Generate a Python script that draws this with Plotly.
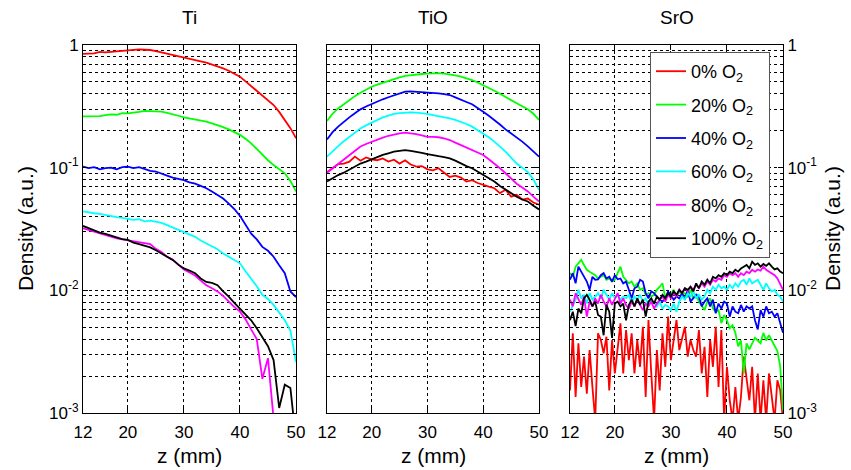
import plotly.graph_objects as go

# ---------------- data ----------------
z_mm = [12, 13, 14, 15, 16, 17, 18, 19, 20, 21, 22, 23, 24, 25, 26, 27, 28, 29, 30, 31,
        32, 33, 34, 35, 36, 37, 38, 39, 40, 41, 42, 43, 44, 45, 46, 47, 48, 49, 50]

z_sro_mm = [12.0, 12.5, 13.0, 13.5, 14.0, 14.5, 15.0, 15.5, 16.0, 16.5, 17.0, 17.5, 18.0, 18.5,
            19.0, 19.5, 20.0, 20.5, 21.0, 21.5, 22.0, 22.5, 23.0, 23.5, 24.0, 24.5, 25.0, 25.5,
            26.0, 26.5, 27.0, 27.5, 28.0, 28.5, 29.0, 29.5, 30.0, 30.5, 31.0, 31.5, 32.0, 32.5,
            33.0, 33.5, 34.0, 34.5, 35.0, 35.5, 36.0, 36.5, 37.0, 37.5, 38.0, 38.5, 39.0, 39.5,
            40.0, 40.5, 41.0, 41.5, 42.0, 42.5, 43.0, 43.5, 44.0, 44.5, 45.0, 45.5, 46.0, 46.5,
            47.0, 47.5, 48.0, 48.5, 49.0, 49.5, 50.0]

series_names = ["0% O<sub>2</sub>", "20% O<sub>2</sub>", "40% O<sub>2</sub>",
                "60% O<sub>2</sub>", "80% O<sub>2</sub>", "100% O<sub>2</sub>"]
series_colors = ["#ff0000", "#00ff00", "#0000ff", "#00ffff", "#ff00ff", "#000000"]
panel_titles = ["Ti", "TiO", "SrO"]

# Ti density
ti_0 = [0.845, 0.85, 0.855, 0.88, 0.87, 0.88, 0.89, 0.895, 0.90, 0.91, 0.92, 0.915, 0.91, 0.89,
        0.87, 0.85, 0.83, 0.815, 0.795, 0.78, 0.755, 0.735, 0.717, 0.695, 0.674, 0.645, 0.617,
        0.585, 0.552, 0.505, 0.463, 0.42, 0.384, 0.355, 0.324, 0.285, 0.245, 0.21, 0.174]
ti_20 = [0.262, 0.262, 0.265, 0.263, 0.268, 0.272, 0.27, 0.278, 0.277, 0.283, 0.285, 0.29, 0.288,
         0.287, 0.286, 0.28, 0.274, 0.265, 0.257, 0.252, 0.248, 0.243, 0.237, 0.23, 0.223, 0.214,
         0.205, 0.195, 0.185, 0.172, 0.158, 0.142, 0.127, 0.115, 0.105, 0.097, 0.090, 0.078, 0.064]
ti_40 = [0.102, 0.099, 0.101, 0.097, 0.099, 0.1, 0.097, 0.101, 0.102, 0.099, 0.101, 0.098, 0.094,
         0.093, 0.089, 0.086, 0.083, 0.081, 0.079, 0.076, 0.074, 0.071, 0.068, 0.064, 0.060, 0.056,
         0.051, 0.046, 0.0405, 0.034, 0.029, 0.026, 0.0226, 0.021, 0.0188, 0.016, 0.0138, 0.0098,
         0.0088]
ti_60 = [0.044, 0.043, 0.0425, 0.042, 0.041, 0.040, 0.0395, 0.039, 0.038, 0.0375, 0.038, 0.0365,
         0.037, 0.036, 0.0355, 0.034, 0.0325, 0.031, 0.030, 0.0285, 0.0273, 0.0255, 0.0241, 0.023,
         0.0216, 0.020, 0.0188, 0.0178, 0.0166, 0.0143, 0.0125, 0.0108, 0.0092, 0.0085, 0.0076,
         0.0066, 0.0057, 0.0047, 0.0026]
ti_80 = [0.032, 0.031, 0.0298, 0.029, 0.028, 0.027, 0.0265, 0.026, 0.0255, 0.025, 0.0245, 0.024,
         0.0238, 0.0218, 0.0205, 0.0188, 0.0178, 0.0162, 0.0148, 0.014, 0.0132, 0.012, 0.0110,
         0.0104, 0.0098, 0.009, 0.0081, 0.0073, 0.0067, 0.0058, 0.0048, 0.0040, 0.0019, 0.0028,
         0.0009, 0.0005, 0.0005, 0.0005, 0.0005]
ti_100 = [0.0335, 0.032, 0.0305, 0.0295, 0.0288, 0.0278, 0.027, 0.0262, 0.0258, 0.0245, 0.0238,
          0.023, 0.0224, 0.0212, 0.020, 0.0188, 0.0177, 0.0162, 0.0151, 0.0145, 0.0138, 0.0125,
          0.0117, 0.0115, 0.011, 0.0098, 0.0089, 0.0079, 0.0071, 0.0064, 0.0057, 0.0049, 0.0041,
          0.0035, 0.0027, 0.0011, 0.0017, 0.0016, 0.0006]

# TiO density
tio_0 = [0.092, 0.099, 0.107, 0.108, 0.112, 0.123, 0.114, 0.121, 0.117, 0.115, 0.119, 0.112,
         0.116, 0.108, 0.115, 0.106, 0.102, 0.103, 0.097, 0.095, 0.099, 0.091, 0.084, 0.086, 0.083,
         0.077, 0.079, 0.075, 0.072, 0.070, 0.068, 0.062, 0.066, 0.058, 0.060, 0.055, 0.056, 0.052,
         0.050]
tio_20 = [0.240, 0.275, 0.304, 0.33, 0.356, 0.383, 0.408, 0.433, 0.457, 0.475, 0.493, 0.512,
          0.531, 0.545, 0.559, 0.568, 0.577, 0.58, 0.584, 0.588, 0.59, 0.585, 0.577, 0.565, 0.552,
          0.535, 0.518, 0.495, 0.472, 0.448, 0.424, 0.40, 0.375, 0.355, 0.335, 0.317, 0.299, 0.275,
          0.245]
tio_40 = [0.170, 0.195, 0.216, 0.237, 0.257, 0.278, 0.299, 0.315, 0.331, 0.346, 0.361, 0.375,
          0.389, 0.403, 0.416, 0.418, 0.416, 0.413, 0.411, 0.408, 0.404, 0.398, 0.391, 0.374, 0.356,
          0.343, 0.329, 0.308, 0.286, 0.265, 0.245, 0.225, 0.205, 0.19, 0.177, 0.163, 0.149, 0.136,
          0.123]
tio_60 = [0.123, 0.137, 0.150, 0.164, 0.178, 0.193, 0.209, 0.221, 0.233, 0.245, 0.257, 0.266,
          0.274, 0.278, 0.281, 0.282, 0.281, 0.278, 0.274, 0.268, 0.263, 0.258, 0.252, 0.245, 0.237,
          0.227, 0.216, 0.203, 0.191, 0.177, 0.163, 0.149, 0.135, 0.121, 0.108, 0.100, 0.092, 0.08,
          0.066]
tio_80 = [0.091, 0.099, 0.108, 0.117, 0.127, 0.138, 0.149, 0.156, 0.163, 0.17, 0.176, 0.182,
          0.187, 0.19, 0.193, 0.191, 0.188, 0.183, 0.178, 0.178, 0.177, 0.173, 0.168, 0.16, 0.153,
          0.146, 0.139, 0.133, 0.127, 0.117, 0.108, 0.099, 0.090, 0.082, 0.074, 0.069, 0.064, 0.058,
          0.053]
tio_100 = [0.077, 0.082, 0.087, 0.091, 0.096, 0.102, 0.108, 0.112, 0.117, 0.122, 0.127, 0.131,
           0.135, 0.137, 0.139, 0.137, 0.135, 0.132, 0.129, 0.126, 0.124, 0.122, 0.119, 0.114,
           0.108, 0.103, 0.099, 0.093, 0.087, 0.082, 0.077, 0.071, 0.066, 0.062, 0.058, 0.055,
           0.053, 0.049, 0.0457]

# SrO density (0.5 mm sampling)
sro_0 = [0.00153, 0.00446, 0.00135, 0.0037, 0.00163, 0.00288, 0.00144, 0.00326, 0.00163, 0.00087,
         0.00446, 0.00394, 0.00306, 0.00419, 0.00153, 0.00394, 0.0021, 0.00347, 0.00538, 0.0021,
         0.00475, 0.0027, 0.00446, 0.0021, 0.00394, 0.00238, 0.00505, 0.00135, 0.00573, 0.0021,
         0.00087, 0.00326, 0.00153, 0.00446, 0.00238, 0.0061, 0.0027, 0.00394, 0.00573, 0.00326,
         0.00419, 0.00505, 0.00288, 0.00394, 0.00326, 0.00288, 0.00475, 0.0021, 0.00347, 0.00135,
         0.00394, 0.00238, 0.00505, 0.00163, 0.00475, 0.00087, 0.00238, 0.00127, 0.00087, 0.00163,
         0.00087, 0.00135, 0.00288, 0.00185, 0.00127, 0.00238, 0.00087, 0.0021, 0.00087, 0.00185,
         0.00087, 0.0021, 0.00127, 0.00087, 0.00185, 0.00153, 0.00087]
sro_20 = [0.0138, 0.0129, 0.0156, 0.0166, 0.0177, 0.0161, 0.0147, 0.0142, 0.0138, 0.0133, 0.0125,
          0.0129, 0.0133, 0.0122, 0.0125, 0.0118, 0.0122, 0.0138, 0.0156, 0.0129, 0.0122, 0.0114,
          0.0118, 0.0107, 0.0114, 0.0101, 0.0104, 0.0092, 0.0095, 0.0089, 0.0092, 0.0101, 0.0107,
          0.0114, 0.0086, 0.0095, 0.0092, 0.0101, 0.0089, 0.0098, 0.0092, 0.0095, 0.0089, 0.0101,
          0.0086, 0.0092, 0.0081, 0.0074, 0.0069, 0.0081, 0.0086, 0.0071, 0.0067, 0.0069, 0.0054,
          0.0063, 0.0057, 0.0049, 0.0052, 0.0045, 0.0035, 0.0039, 0.0021, 0.0037, 0.0033, 0.0037,
          0.0041, 0.0039, 0.0037, 0.0045, 0.0039, 0.0043, 0.0039, 0.0035, 0.0032, 0.0024, 0.00105]
sro_40 = [0.0122, 0.0138, 0.0114, 0.0156, 0.0142, 0.0129, 0.0118, 0.0101, 0.0129, 0.0122, 0.0123,
          0.0133, 0.0138, 0.0125, 0.0129, 0.0118, 0.0133, 0.0123, 0.0125, 0.0114, 0.0118, 0.0101,
          0.0086, 0.0104, 0.0107, 0.0122, 0.0118, 0.0095, 0.0086, 0.0098, 0.0095, 0.0089, 0.0084,
          0.0081, 0.0086, 0.0098, 0.0092, 0.0084, 0.0089, 0.0086, 0.0095, 0.0084, 0.0101, 0.0081,
          0.0086, 0.0092, 0.0089, 0.0074, 0.0081, 0.0086, 0.0074, 0.0084, 0.0065, 0.0078, 0.0071,
          0.0081, 0.0078, 0.0061, 0.0074, 0.0067, 0.0065, 0.0076, 0.0067, 0.0074, 0.0071, 0.0074,
          0.0057, 0.0048, 0.0069, 0.0061, 0.0074, 0.0065, 0.0067, 0.0061, 0.0065, 0.0054, 0.0045]
sro_60 = [0.0067, 0.0074, 0.0084, 0.0101, 0.0086, 0.0092, 0.0078, 0.0095, 0.0084, 0.0089, 0.0095,
          0.0086, 0.0101, 0.0092, 0.0084, 0.0095, 0.0086, 0.0092, 0.0084, 0.0089, 0.0086, 0.0092,
          0.0078, 0.0089, 0.0084, 0.0092, 0.0081, 0.0086, 0.0076, 0.0084, 0.0078, 0.0074, 0.0081,
          0.0071, 0.0076, 0.0074, 0.0069, 0.0078, 0.0067, 0.0081, 0.0089, 0.0084, 0.0095, 0.0089,
          0.0098, 0.0086, 0.0092, 0.0084, 0.0089, 0.0101, 0.0095, 0.0107, 0.0101, 0.0111, 0.0104,
          0.0107, 0.0101, 0.0111, 0.0104, 0.0114, 0.0107, 0.0118, 0.0122, 0.0111, 0.0125, 0.0114,
          0.0118, 0.0122, 0.0111, 0.0101, 0.0114, 0.0104, 0.0098, 0.0101, 0.0092, 0.0089, 0.0081]
sro_80 = [0.0084, 0.0074, 0.0095, 0.0086, 0.0076, 0.0089, 0.0061, 0.0081, 0.0074, 0.0086, 0.0078,
          0.0092, 0.0081, 0.0074, 0.0086, 0.0076, 0.0084, 0.0095, 0.0078, 0.0086, 0.0076, 0.0071,
          0.0081, 0.0074, 0.0084, 0.0076, 0.0069, 0.0078, 0.0074, 0.0081, 0.0071, 0.0078, 0.0084,
          0.0089, 0.0081, 0.0092, 0.0086, 0.0095, 0.0089, 0.0101, 0.0095, 0.0104, 0.0098, 0.0107,
          0.0101, 0.0111, 0.0104, 0.0114, 0.0107, 0.0118, 0.0111, 0.0122, 0.0118, 0.0125, 0.0122,
          0.0133, 0.0129, 0.0138, 0.0133, 0.0138, 0.0129, 0.0138, 0.0133, 0.0142, 0.0138, 0.0147,
          0.0142, 0.0148, 0.0145, 0.0156, 0.0147, 0.0142, 0.0138, 0.0133, 0.0125, 0.0111, 0.0101]
sro_100 = [0.0057, 0.0067, 0.0051, 0.0071, 0.0065, 0.0086, 0.0092, 0.0084, 0.0074, 0.0081, 0.0063,
           0.0061, 0.0043, 0.0076, 0.0067, 0.0041, 0.0078, 0.0081, 0.0074, 0.0078, 0.0057, 0.0076,
           0.0084, 0.0074, 0.0086, 0.0076, 0.0084, 0.0061, 0.0081, 0.0086, 0.0078, 0.0089, 0.0084,
           0.0092, 0.0086, 0.0095, 0.0089, 0.0098, 0.0092, 0.0101, 0.0095, 0.0104, 0.0101, 0.0107,
           0.0098, 0.0114, 0.0104, 0.0118, 0.0111, 0.0122, 0.0114, 0.0129, 0.0125, 0.0133, 0.0129,
           0.0138, 0.0133, 0.0142, 0.0138, 0.0147, 0.0142, 0.0151, 0.0156, 0.0161, 0.0151, 0.0171,
           0.0161, 0.0166, 0.0156, 0.0164, 0.0158, 0.0166, 0.0156, 0.0148, 0.0151, 0.0142, 0.0138]

# log-axis ticks: labelled decades and unlabelled in-between grid positions
y_major_vals = [0.001, 0.01, 0.1, 1.0]
y_major_text = ["10<sup>-3</sup>", "10<sup>-2</sup>", "10<sup>-1</sup>", "1"]
y_minor_vals = [0.002, 0.003, 0.004, 0.005, 0.006, 0.007, 0.008, 0.009,
                0.02, 0.03, 0.04, 0.05, 0.06, 0.07, 0.08, 0.09,
                0.2, 0.3, 0.4, 0.5, 0.6, 0.7, 0.8, 0.9]
x_tick_vals = [12, 20, 30, 40, 50]
x_tick_text = ["12", "20", "30", "40", "50"]

panels = [
    (z_mm, [ti_0, ti_20, ti_40, ti_60, ti_80, ti_100]),
    (z_mm, [tio_0, tio_20, tio_40, tio_60, tio_80, tio_100]),
    (z_sro_mm, [sro_0, sro_20, sro_40, sro_60, sro_80, sro_100]),
]

# ---------------- figure ----------------
W, H = 851, 470
FONT = "Arial, Liberation Sans, Helvetica, sans-serif"
x_domains = [[83 / W, 296 / W], [327 / W, 539 / W], [570 / W, 783 / W]]
y_domain = [1 - 413 / H, 1 - 45 / H]

fig = go.Figure()
for p, (zs, series) in enumerate(panels):
    xa = "x" if p == 0 else f"x{p + 1}"
    ya = "y" if p == 0 else f"y{p + 1}"
    for k, vals in enumerate(series):
        fig.add_trace(go.Scatter(
            x=zs, y=vals, mode="lines",
            line=dict(color=series_colors[k], width=1.8),
            name=series_names[k], legendgroup=f"g{k}",
            showlegend=(p == 2), xaxis=xa, yaxis=ya,
        ))

grid_style = dict(showgrid=True, gridcolor="#000000", griddash="dot", gridwidth=1)
axis_common = dict(
    grid_style,
    showline=True, linecolor="#000000", linewidth=1, mirror="ticks",
    ticks="inside", ticklen=5, tickcolor="#000000",
    tickfont=dict(family=FONT, size=17, color="#000000"),
    zeroline=False, automargin=False,
)

layout = dict(
    width=W, height=H, template="none",
    margin=dict(l=0, r=0, t=0, b=0),
    paper_bgcolor="white", plot_bgcolor="white",
    font=dict(family=FONT, color="#000000"),
    legend=dict(
        x=650 / W, y=1 - 52 / H, xanchor="left", yanchor="top",
        bgcolor="white", bordercolor="#555555", borderwidth=1,
        font=dict(family=FONT, size=18, color="#000000"),
        tracegroupgap=7, traceorder="grouped",
    ),
)

for p in range(3):
    xkey = "xaxis" if p == 0 else f"xaxis{p + 1}"
    ykey = "yaxis" if p == 0 else f"yaxis{p + 1}"
    xa = "x" if p == 0 else f"x{p + 1}"
    ya = "y" if p == 0 else f"y{p + 1}"
    layout[xkey] = dict(axis_common, domain=x_domains[p], range=[12, 50],
                        tickvals=x_tick_vals, ticktext=x_tick_text, anchor=ya,
                        ticklabelstandoff=4)
    layout[ykey] = dict(axis_common, domain=y_domain, type="log", range=[-3, 0],
                        tickvals=y_major_vals, ticktext=y_major_text, anchor=xa,
                        side="right" if p == 2 else "left",
                        showticklabels=(p != 1),
                        minor=dict(tickvals=y_minor_vals, ticks="inside", ticklen=3,
                                   tickcolor="#000000", **grid_style))

fig.update_layout(**layout)

annotations = []
for p in range(3):
    cx = (x_domains[p][0] + x_domains[p][1]) / 2
    annotations.append(dict(text=panel_titles[p], x=cx, y=1 - 18 / H, xref="paper", yref="paper",
                            xanchor="center", yanchor="middle", showarrow=False,
                            font=dict(family=FONT, size=19, color="#000000")))
    annotations.append(dict(text="z (mm)", x=cx, y=1 - 455 / H, xref="paper", yref="paper",
                            xanchor="center", yanchor="middle", showarrow=False,
                            font=dict(family=FONT, size=21, color="#000000")))
for xpos in (25 / W, 832 / W):
    annotations.append(dict(text="Density (a.u.)", x=xpos, y=1 - 229 / H, xref="paper",
                            yref="paper", xanchor="center", yanchor="middle", textangle=-90,
                            showarrow=False, font=dict(family=FONT, size=21, color="#000000")))
fig.update_layout(annotations=annotations)

fig.write_html("out.html", config={"displayModeBar": False},
               post_script="document.body.style.margin='0px';")
